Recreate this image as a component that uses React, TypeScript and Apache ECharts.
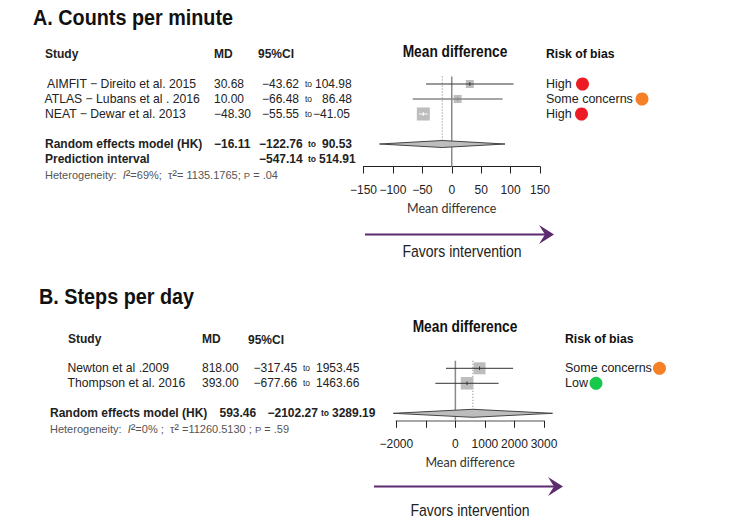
import React, { useEffect, useRef } from 'react';
import * as echarts from 'echarts';

// Panel A: counts per minute
const studiesA = ['AIMFIT \u2212 Direito et al. 2015', 'ATLAS \u2212 Lubans et al . 2016', 'NEAT \u2212 Dewar et al. 2013'];
const mdA = [30.68, 10.0, -48.3];
const lowerA = [-43.62, -66.48, -55.55];
const upperA = [104.98, 86.48, -41.05];
const riskA = ['High', 'Some concerns', 'High'];
const pooledA = [-16.11, -122.76, 90.53];
const predictionA = [-547.14, 514.91];

// Panel B: steps per day
const studiesB = ['Newton et al .2009', 'Thompson et al. 2016'];
const mdB = [818.0, 393.0];
const lowerB = [-317.45, -677.66];
const upperB = [1953.45, 1463.66];
const riskB = ['Some concerns', 'Low'];
const pooledB = [593.46, -2102.27, 3289.19];

const RISK_COLORS: Record<string, string> = { High: '#ed1c24', 'Some concerns': '#f58025', Low: '#17c94b' };
const SANS = '"Liberation Sans", Arial, sans-serif';
const TEXT = '#222';
const PURPLE = '#5c2a6e';

const fmt = (v: number) => v.toFixed(2).replace('-', '\u2212');

const txt = (x: number, y: number, text: string, o: any = {}) => ({
	type: 'text',
	x,
	y,
	scaleX: o.scaleX || 1,
	silent: true,
	style: {
		text,
		fill: o.fill || TEXT,
		font: `${o.weight || 'normal'} ${o.size || 12}px ${SANS}`,
		textAlign: o.align || 'left',
		textVerticalAlign: 'middle',
		rich: o.rich
	}
});

// the condensed headings are Liberation Sans squeezed sideways
const title = (x: number, y: number, text: string) =>
	txt(x, y, text, { weight: 'bold', size: 22, scaleX: 0.9, fill: '#111' });
const plotHead = (x: number, y: number) =>
	txt(x, y, 'Mean difference', { weight: 'bold', size: 16, scaleX: 0.86, align: 'center', fill: '#111' });
const riskHead = (x: number, y: number) =>
	txt(x, y, 'Risk of bias', { weight: 'bold', size: 13, scaleX: 0.94, fill: '#111' });
const favors = (x: number, y: number) =>
	txt(x, y, 'Favors intervention', { size: 16.5, scaleX: 0.85, align: 'center' });

const dot = (x: number, y: number, risk: string) => ({
	type: 'circle',
	silent: true,
	shape: { cx: x, cy: y, r: 6.5 },
	style: { fill: RISK_COLORS[risk] }
});

const arrow = (x0: number, x1: number, y: number) => [
	{ type: 'line', silent: true, shape: { x1: x0, y1: y, x2: x1 - 8, y2: y }, style: { stroke: PURPLE, lineWidth: 2 } },
	{
		type: 'polygon',
		silent: true,
		shape: { points: [[x1, y], [x1 - 15, y - 9.5], [x1 - 9, y], [x1 - 15, y + 9.5]] },
		style: { fill: PURPLE }
	}
];

const hetStyle = {
	fill: '#555',
	size: 11,
	rich: {
		i: { font: `italic 11px ${SANS}`, fill: '#555' },
		s: { font: `14px ${SANS}`, fill: '#555' },
		p: { font: `9.5px ${SANS}`, fill: '#555' }
	}
};

// one forest panel drawn on its own grid
const forestSeries = (
	idx: number,
	md: number[],
	lower: number[],
	upper: number[],
	pooled: number[],
	boxes: number[],
	lineColors: string[],
	lineWidths: number[],
	rowPooled: number,
	rowEnd: number,
	halfHeight: number
) => {
	const base = { xAxisIndex: idx, yAxisIndex: idx, silent: true };
	const lineBase = { ...base, type: 'line', symbol: 'none' };
	const series: any[] = [
		{
			...lineBase,
			data: [[0, 0.5], [0, rowEnd]],
			lineStyle: { color: '#8a8a8a', width: 1.5 },
			z: 2
		},
		{
			...lineBase,
			data: [[pooled[0], 0.5], [pooled[0], rowPooled]],
			lineStyle: { color: '#777', width: 1, type: [1, 2] },
			z: 2
		},
		{
			...base,
			type: 'scatter',
			symbol: 'rect',
			data: md.map((v, i) => ({ value: [v, i + 1], symbolSize: boxes[i] })),
			itemStyle: { color: '#bdbdbd', opacity: 1 },
			z: 3
		},
		{
			...base,
			type: 'custom',
			z: 5,
			renderItem: (_: any, api: any) => {
				const y = api.coord([0, rowPooled])[1];
				const l = api.coord([api.value(1), rowPooled])[0];
				const c = api.coord([api.value(0), rowPooled])[0];
				const r = api.coord([api.value(2), rowPooled])[0];
				return {
					type: 'polygon',
					shape: { points: [[l, y], [c, y - halfHeight], [r, y], [c, y + halfHeight]] },
					style: { fill: '#bdbdbd', stroke: '#444', lineWidth: 1 }
				};
			},
			data: [pooled]
		}
	];
	md.forEach((v, i) => {
		const row = i + 1;
		series.push({
			...lineBase,
			data: [[lower[i], row], [upper[i], row]],
			lineStyle: { color: lineColors[i], width: lineWidths[i] },
			z: 6
		});
		series.push({
			...lineBase,
			data: [[v, row - 0.12], [v, row + 0.12]],
			lineStyle: { color: lineColors[i], width: 1 },
			z: 6
		});
	});
	return series;
};

const App: React.FC = () => {
	const chartRef = useRef<HTMLDivElement>(null);

	useEffect(() => {
		if (!chartRef.current) return;
		const chart = echarts.init(chartRef.current, undefined, { renderer: 'svg' });

		const rowA = (r: number) => 69 + 15 * r;
		const rowB = (r: number) => 353.3 + 15 * r;
		const dotsA = [582.5, 642, 581.5];
		const dotsB = [659.5, 596];

		const axisCommon = {
			type: 'value',
			position: 'bottom',
			nameLocation: 'middle',
			name: 'Mean difference',
			nameTextStyle: { fontFamily: 'Lato, sans-serif', fontSize: 12.5, color: '#333' },
			splitLine: { show: false },
			axisTick: { length: 7, lineStyle: { color: '#222', width: 1 } },
			axisLabel: { fontFamily: SANS, fontSize: 12, color: TEXT, margin: 17, hideOverlap: false }
		};

		const yCommon = { type: 'value', show: false, inverse: true, min: 0 };

		const option: any = {
			animation: false,
			backgroundColor: '#fff',
			grid: [
				{ left: 363.5, top: rowA(0), width: 176.5, height: 97.5 },
				{ left: 396.3, top: rowB(0), width: 147.7, height: 67.5 }
			],
			xAxis: [
				{
					...axisCommon,
					gridIndex: 0,
					min: -150,
					max: 150,
					interval: 50,
					nameGap: 35,
					axisLine: { onZero: false, lineStyle: { color: '#222', width: 1 } },
					axisLabel: {
						...axisCommon.axisLabel,
						formatter: (v: number) => String(v).replace('-', '\u2212')
					}
				},
				{
					...axisCommon,
					gridIndex: 1,
					min: -2000,
					max: 3000,
					interval: 1000,
					nameGap: 35,
					axisLine: { onZero: false, lineStyle: { color: '#8a8a8a', width: 1.5 } },
					axisLabel: {
						...axisCommon.axisLabel,
						formatter: (v: number) => (v === -1000 ? '' : String(v).replace('-', '\u2212'))
					}
				}
			],
			yAxis: [
				{ ...yCommon, gridIndex: 0, max: 6.5 },
				{ ...yCommon, gridIndex: 1, max: 4.5 }
			],
			series: [
				...forestSeries(0, mdA, lowerA, upperA, pooledA, [8, 8, 13], ['#333', '#888', '#fff'], [1, 1.5, 1], 5, 6.5, 3.5),
				...forestSeries(1, mdB, lowerB, upperB, pooledB, [12, 12.5], ['#333', '#333'], [1, 1], 4, 4.5, 4)
			],
			graphic: [
				// Panel A
				title(33, 17, 'A. Counts per minute'),
				txt(45, 54, 'Study', { weight: 'bold' }),
				txt(214, 54, 'MD', { weight: 'bold' }),
				txt(258, 54, '95%CI', { weight: 'bold' }),
				plotHead(455, 51),
				riskHead(546, 54),
				...studiesA.map((s, i) => txt([47, 44.5, 45][i], rowA(i + 1), s, { size: 12.2 })),
				...mdA.map((v, i) => txt(214, rowA(i + 1), fmt(v))),
				...lowerA.map((v, i) => txt(262, rowA(i + 1), fmt(v))),
				...lowerA.map((_, i) => txt(305, rowA(i + 1), 'to', { size: 8.5 })),
				...upperA.map((v, i) => txt([315, 322, 313][i], rowA(i + 1), fmt(v))),
				...riskA.map((r, i) => txt(546, rowA(i + 1), r, { size: 12.5 })),
				...riskA.map((r, i) => dot(dotsA[i], rowA(i + 1), r)),
				txt(45, rowA(5), 'Random effects model (HK)', { weight: 'bold' }),
				txt(214, rowA(5), fmt(pooledA[0]), { weight: 'bold' }),
				txt(259, rowA(5), fmt(pooledA[1]), { weight: 'bold' }),
				txt(308, rowA(5), 'to', { weight: 'bold', size: 8.5 }),
				txt(322, rowA(5), fmt(pooledA[2]), { weight: 'bold' }),
				txt(45, rowA(6), 'Prediction interval', { weight: 'bold' }),
				txt(259, rowA(6), fmt(predictionA[0]), { weight: 'bold' }),
				txt(308, rowA(6), 'to', { weight: 'bold', size: 8.5 }),
				txt(319, rowA(6), fmt(predictionA[1]), { weight: 'bold' }),
				txt(45, 175, 'Heterogeneity:  {i|I}{s|\u00b2}=69%;  \u03c4{s|\u00b2}= 1135.1765; {p|P} = .04', hetStyle),
				...arrow(365, 554, 234.5),
				favors(462, 251),

				// Panel B
				title(39, 296, 'B. Steps per day'),
				txt(68, 339, 'Study', { weight: 'bold' }),
				txt(202, 339, 'MD', { weight: 'bold' }),
				txt(248, 340, '95%CI', { weight: 'bold' }),
				plotHead(465, 326.5),
				riskHead(565, 339),
				...studiesB.map((s, i) => txt(67.5, rowB(i + 1), s, { size: 12.2 })),
				...mdB.map((v, i) => txt(202, rowB(i + 1), fmt(v))),
				...lowerB.map((v, i) => txt(253.5, rowB(i + 1), fmt(v))),
				...lowerB.map((_, i) => txt(303, rowB(i + 1), 'to', { size: 8.5 })),
				...upperB.map((v, i) => txt(316, rowB(i + 1), fmt(v))),
				...riskB.map((r, i) => txt(565, rowB(i + 1), r, { size: 12.5 })),
				...riskB.map((r, i) => dot(dotsB[i], rowB(i + 1), r)),
				txt(50, rowB(4), 'Random effects model (HK)', { weight: 'bold' }),
				txt(219.5, rowB(4), fmt(pooledB[0]), { weight: 'bold' }),
				txt(267.5, rowB(4), fmt(pooledB[1]), { weight: 'bold' }),
				txt(321, rowB(4), 'to', { weight: 'bold', size: 8.5 }),
				txt(332, rowB(4), fmt(pooledB[2]), { weight: 'bold' }),
				txt(50, 429, 'Heterogeneity:  {i|I}{s|\u00b2}=0% ;  \u03c4{s|\u00b2} =11260.5130 ; {p|P} = .59', hetStyle),
				...arrow(374, 563, 486.5),
				favors(470, 510)
			]
		};

		chart.setOption(option);

		return () => {
			chart.dispose();
		};
	}, []);

	return <div ref={chartRef} style={{ position: 'absolute', left: 0, top: 0, width: 742, height: 530 }} />;
};

export default App;
